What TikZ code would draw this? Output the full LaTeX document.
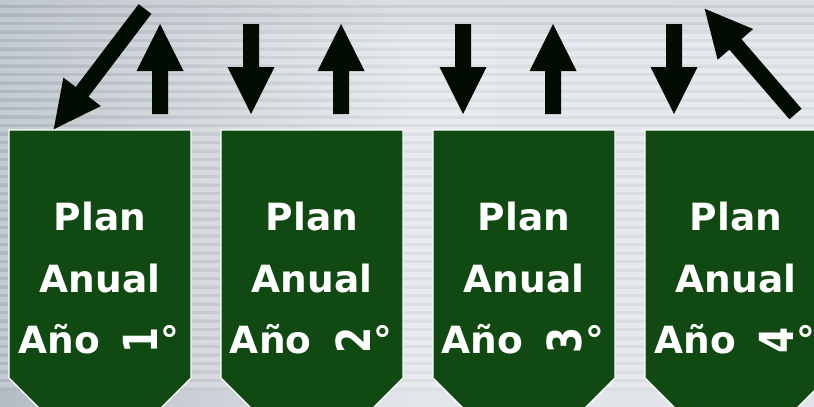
\documentclass[tikz,border=0pt]{standalone}
\usepackage{fontspec}
\setmainfont{DejaVu Sans}
\usetikzlibrary{calc}
\definecolor{cardgreen}{HTML}{104A12}
\definecolor{arrowblk}{HTML}{020C02}
\definecolor{bgdark}{HTML}{B4BCC5}
\definecolor{bglight}{HTML}{E2E5E9}
\tikzset{
  card/.style={fill=cardgreen, draw=white, line width=1.2pt},
  cardtext/.style={text=white, font=\fontsize{37.5}{37.5}\selectfont\bfseries, anchor=base},
  pics/barrow/.style={code={
    \fill[arrowblk] (0,-8) -- ({#1-47},-8) -- ({#1-47},-23.5) -- (#1,0) -- ({#1-47},23.5) -- ({#1-47},8) -- (0,8) -- cycle;
  }}
}
\newcommand{\rotdig}[1]{\rotatebox{90}{\scalebox{1}[1.25]{#1}}}
\begin{document}
\begin{tikzpicture}[x=1pt,y=-1pt]
\useasboundingbox (0,0) rectangle (814,407);
% background
\shade[left color=bgdark, right color=bglight!95!bgdark, middle color=bglight] (0,0) rectangle (814,407);
\shade[top color=bgdark!90!black, bottom color=bgdark, opacity=0.25] (0,0) rectangle (814,30);
\foreach \k in {0,...,45} {
  \shade[top color=white, bottom color=white, middle color=white, opacity=0.22] (0,{\k*8.5}) rectangle (814,{\k*8.5+4});
  \fill[bgdark!60!black, opacity=0.06] (0,{\k*8.5+5}) rectangle (814,{\k*8.5+8});
}
% cards
\foreach \n/\x in {1/9, 2/221, 3/433, 4/645} {
  \path[card] (\x,130) -- ({\x+182},130) -- ({\x+182},378) -- ({\x+91},469) -- (\x,378) -- cycle;
  \node[cardtext] (plan\n) at ({\x+91},230) {Plan};
  \node[cardtext] (anual\n) at ({\x+91},292) {Anual};
  \node[cardtext] (ano\n) at ({\x+90},353) {Año\hspace{24pt}\rotdig{\n}\hspace{3pt}°};
}
% arrows
\pic[rotate=232.8] at (145,9) {barrow=151};
\pic[rotate=90] at (160,114) {barrow=90};
\pic[rotate=270] at (251,24) {barrow=90};
\pic[rotate=90] at (341,114) {barrow=90};
\pic[rotate=270] at (463,24) {barrow=90};
\pic[rotate=90] at (553,114) {barrow=90};
\pic[rotate=270] at (674,24) {barrow=90};
\pic[rotate=130.8] at (795.5,114) {barrow=139};
\end{tikzpicture}
\end{document}
